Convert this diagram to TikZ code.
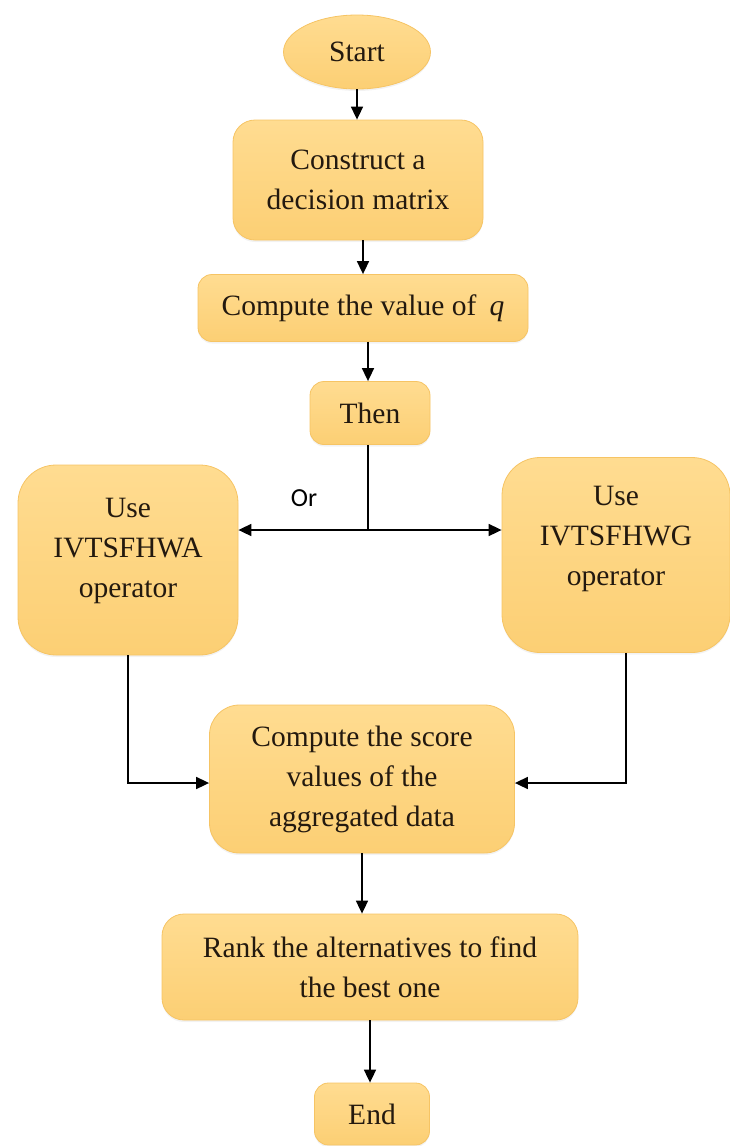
\documentclass[tikz,border=0pt]{standalone}
\usepackage{fontspec}
\setmainfont{Liberation Serif}
\newfontfamily\orfont{Carlito}
\usetikzlibrary{arrows.meta,shapes.geometric,shadows}
\definecolor{boxtop}{RGB}{255,220,145}
\definecolor{boxbot}{RGB}{252,207,116}
\definecolor{boxline}{RGB}{246,196,100}
\definecolor{txt}{RGB}{35,25,15}
\begin{document}
\begin{tikzpicture}[x=1pt,y=-1pt,
  base/.style={draw=boxline, line width=0.8pt, top color=boxtop, bottom color=boxbot,
    inner sep=0pt, align=center, text=txt, font=\fontsize{29.5}{40}\selectfont,
    drop shadow={opacity=0.10, shadow xshift=0pt, shadow yshift=-2pt}},
  box/.style={base, rounded corners=#1},
  box/.default=15pt,
  label text/.style={align=center, text=txt, font=\fontsize{29.5}{40}\selectfont, inner sep=0pt},
  arr/.style={line width=1.7pt, draw=black, -{Triangle[length=13pt,width=12pt]}},
  plain/.style={line width=1.7pt, draw=black}
]
\useasboundingbox (0,0) rectangle (730,1146);

\node[base, ellipse, minimum width=147pt, minimum height=74pt] (start) at (357,52) {Start};
\node[box=22pt, minimum width=250pt, minimum height=120pt] (construct) at (358,180) {Construct a\\decision matrix};
\node[box=14pt, minimum width=330pt, minimum height=67pt] (valq) at (363,308) {Compute the value of\hspace{0.45em}\textit{q}};
\node[box=14pt, minimum width=120pt, minimum height=63pt] (then) at (370,413) {Then};
\node[box=38pt, minimum width=220pt, minimum height=190pt] (wa) at (128,560) {};
\node[label text] (watext) at (128,551) {Use\\IVTSFHWA\\operator};
\node[box=38pt, minimum width=228pt, minimum height=195pt] (wg) at (616,555) {};
\node[label text] (wgtext) at (616,539) {Use\\IVTSFHWG\\operator};
\node[box=30pt, minimum width=305pt, minimum height=148pt] (score) at (362,779) {Compute the score\\values of the\\aggregated data};
\node[box=22pt, minimum width=416pt, minimum height=106pt] (rank) at (370,967) {Rank the alternatives to find\\the best one};
\node[box=14pt, minimum width=115pt, minimum height=62pt] (end) at (372,1114) {End};
\node[font=\orfont\fontsize{26}{30}\selectfont, text=black, inner sep=0pt] (or) at (304,498) {Or};

\coordinate (j) at (368,530);

\draw[arr] (start.south) -- (start.south |- construct.north);
\draw[arr] (valq.north |- construct.south) -- (valq.north);
\draw[arr] (j |- valq.south) -- (j |- then.north);
\draw[plain] (j |- then.south) -- (j);
\draw[arr] (j) -- (j -| wa.east);
\draw[arr] (j) -- (j -| wg.west);
\draw[arr] (wa.south) |- ([yshift=-4pt]score.west);
\draw[arr] ([xshift=10pt]wg.south) |- ([yshift=-4pt]score.east);
\draw[arr] (score.south) -- (score.south |- rank.north);
\draw[arr] (rank.south) -- (rank.south |- end.north);
\end{tikzpicture}
\end{document}
